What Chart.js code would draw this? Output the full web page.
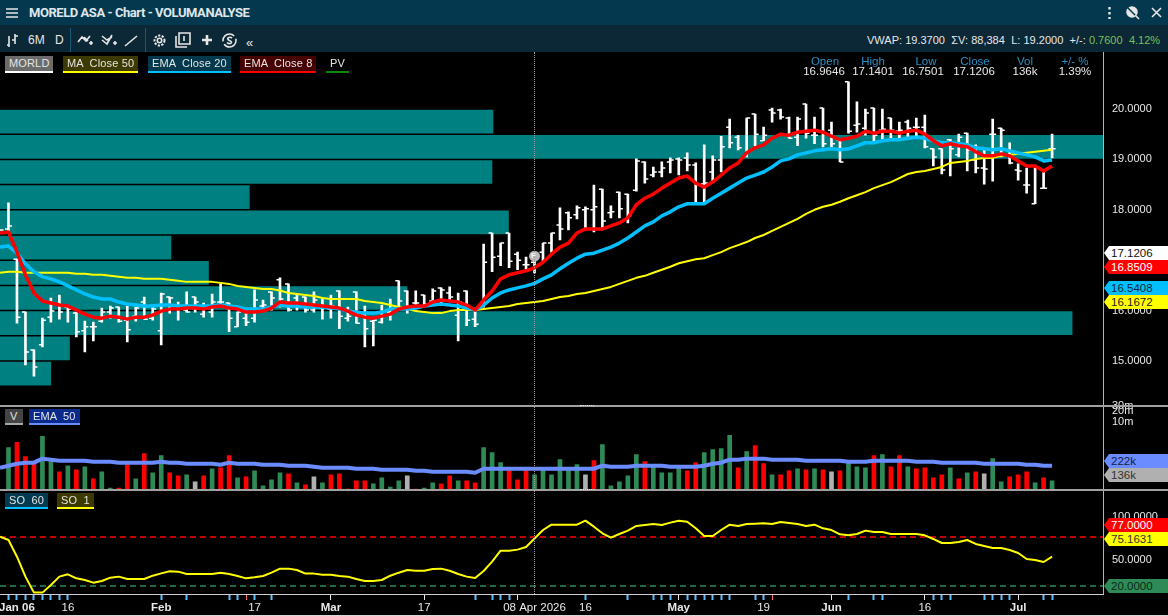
<!DOCTYPE html>
<html>
<head>
<meta charset="utf-8">
<title>MORELD ASA - Chart - VOLUMANALYSE</title>
<script src="https://cdn.jsdelivr.net/npm/chart.js@4"></script>
<style>
html,body{margin:0;padding:0;background:#000;overflow:hidden}
body{width:1168px;height:616px;position:relative;font:11px "Liberation Sans",Arial,sans-serif;color:#e8e8e8}
.abs,.chip,.tag,.hdr{position:absolute;white-space:pre}
#titlebar{position:absolute;left:0;top:0;width:1168px;height:25px;background:#03384f}
#toolbar{position:absolute;left:0;top:25px;width:1168px;height:27px;background:#0c2736}
.sep{position:absolute;top:28px;width:1px;height:24px;background:#145a7c}
canvas{position:absolute;left:0;top:52px}
.chip{height:15px;line-height:15px;padding:0 4px;color:#e4e4e4;letter-spacing:.15px}
.tag{left:1104px;width:57px;height:14px;line-height:14px;padding-left:7px;font-size:11.5px;clip-path:polygon(5px 0,100% 0,100% 100%,5px 100%,0 50%)}
.hdr{width:70px;text-align:center;line-height:11px;font-size:11.5px}
.line{position:absolute;left:0;width:1168px;height:2px;background:#a0a0a0}
.grip{position:absolute;left:580px;width:14px;height:0;border-top:1px dotted #e0e0e0}
svg{position:absolute;overflow:visible}
svg *{stroke:#e6e6e6;fill:none;stroke-width:1.6}
</style>
</head>
<body>
<div id="titlebar"></div>
<div id="toolbar"></div>
<canvas id="chart" width="1168" height="564"></canvas>

<!-- title bar -->
<svg style="left:6px;top:8px" width="12" height="10"><path d="M0 1H12M0 5H12M0 9H12"/></svg>
<div class="abs" style="left:29px;top:5px;font:bold 13px Roboto,sans-serif;letter-spacing:-.45px;color:#dfe6ea">MORELD ASA - Chart - VOLUMANALYSE</div>
<svg style="left:1108px;top:7px" width="3" height="12"><path d="M1.5 0V2.5M1.5 5V7.5M1.5 10V12" style="stroke-width:2.4"/></svg>
<svg style="left:1126px;top:6px" width="14" height="14"><circle cx="6" cy="6" r="5" style="fill:#e6e6e6"/><path d="M1 1L13 13" style="stroke:#03384f;stroke-width:1.5"/><path d="M9 9L13 13"/></svg>
<svg style="left:1152px;top:8px" width="9" height="9"><path d="M0 0L9 9M9 0L0 9"/></svg>

<!-- tool bar -->
<svg style="left:6px;top:34px" width="14" height="13"><path d="M3 2V13M1 11H3M9 0V10M9 2H12M9 6H6"/></svg>
<div class="abs" style="left:28px;top:33px;font-size:12px">6M</div>
<div class="abs" style="left:55px;top:33px;font-size:12px">D</div>
<div class="sep" style="left:70px"></div>
<svg style="left:78px;top:34px" width="16" height="13"><path d="M0 8L4 3L8 7L12 2M6 3L10 7M11 9H15M13 7V11"/></svg>
<svg style="left:102px;top:34px" width="16" height="13"><path d="M0 2L5 6L10 3M0 6L5 10L10 1M11 9H15M13 7V11"/></svg>
<svg style="left:125px;top:36px" width="12" height="10"><path d="M0 10L12 0"/></svg>
<div class="sep" style="left:145px"></div>
<svg style="left:153px;top:34px" width="13" height="13"><circle cx="6.5" cy="6.5" r="2.2"/><circle cx="6.5" cy="6.5" r="5" style="stroke-dasharray:2.2 1.4;stroke-width:2"/></svg>
<svg style="left:176px;top:33px" width="14" height="14"><path d="M3 0H14V11H3ZM0 3V14H11M8 3V8"/></svg>
<svg style="left:202px;top:35px" width="10" height="10"><path d="M5 0V10M0 5H10" style="stroke-width:2.6"/></svg>
<svg style="left:222px;top:33px" width="15" height="15"><circle cx="7.5" cy="7.5" r="6.5" style="stroke-dasharray:16 3"/><path d="M10 5C8 3.5 5 4.5 6 6.5C7 8 10 7.5 9.5 9.5C9 11 6 11 5 9.5"/></svg>
<div class="abs" style="left:246px;top:35px;font-size:13px">«</div>
<div class="abs" style="left:867px;top:34px;font-size:11px;word-spacing:.1px">VWAP: 19.3700 &nbsp;ΣV: 88,384 &nbsp;L: 19.2000 &nbsp;+/-: <span style="color:#78c257">0.7600 &nbsp;4.12%</span></div>

<!-- legends, price panel -->
<div class="chip" style="left:5px;top:56px;background:#6b6b6b;border-bottom:2px solid #fff">MORLD</div>
<div class="chip" style="left:63px;top:56px;background:#3c3a00;border-bottom:2px solid #ffff00">MA  Close 50</div>
<div class="chip" style="left:148px;top:56px;background:#04384c;border-bottom:2px solid #00bfff">EMA  Close 20</div>
<div class="chip" style="left:240px;top:56px;background:#470000;border-bottom:2px solid #ff0000">EMA  Close 8</div>
<div class="chip" style="left:326px;top:56px;border-bottom:2px solid #0a8a0a">PV</div>

<!-- crosshair read-out -->
<div class="hdr" style="left:790px;top:56px;color:#2a8fc4">Open</div><div class="hdr" style="left:789px;top:66px">16.9646</div>
<div class="hdr" style="left:838px;top:56px;color:#2a8fc4">High</div><div class="hdr" style="left:838px;top:66px">17.1401</div>
<div class="hdr" style="left:891px;top:56px;color:#2a8fc4">Low</div><div class="hdr" style="left:888px;top:66px">16.7501</div>
<div class="hdr" style="left:940px;top:56px;color:#2a8fc4">Close</div><div class="hdr" style="left:939px;top:66px">17.1206</div>
<div class="hdr" style="left:990px;top:56px;color:#2a8fc4">Vol</div><div class="hdr" style="left:990px;top:66px">136k</div>
<div class="hdr" style="left:1040px;top:56px;color:#2a8fc4">+/- %</div><div class="hdr" style="left:1040px;top:66px">1.39%</div>

<!-- panel separators and crosshair -->
<div class="line" style="top:405px"></div>
<div class="line" style="top:489px"></div>
<div class="grip" style="top:405px"></div>
<div class="grip" style="top:489px"></div>
<div class="abs" style="left:0;top:615px;width:1168px;height:1px;background:#d8d8d8"></div>
<div class="abs" style="left:534px;top:52px;height:542px;border-left:1px dotted #9a9a9a"></div>
<div class="abs" style="left:531px;top:251px;font-size:8px;font-weight:bold;color:#f4f4f4">F</div>

<!-- legends, lower panels -->
<div class="chip" style="left:5px;top:409px;height:14px;padding:0 5px;background:#444;border-bottom:2px solid #a8a8a8">V</div>
<div class="chip" style="left:29px;top:409px;height:14px;background:#0a2b8c;border-bottom:2px solid #6a8cff">EMA  50</div>
<div class="chip" style="left:5px;top:493px;height:14px;background:#043a50;border-bottom:2px solid #00bfff">SO  60</div>
<div class="chip" style="left:57px;top:493px;height:14px;background:#3c3a00;border-bottom:2px solid #ffff00">SO  1</div>

<!-- last value tags -->
<div class="tag" style="top:246px;background:#fff;color:#111">17.1206</div>
<div class="tag" style="top:260px;background:#ff0000;color:#fff">16.8509</div>
<div class="tag" style="top:281px;background:#00bfff;color:#0a2a3a">16.5408</div>
<div class="tag" style="top:295px;background:#ffff00;color:#222">16.1672</div>
<div class="tag" style="top:454px;background:#6a8cff;color:#10204a">222k</div>
<div class="tag" style="top:468px;background:#b0b0b0;color:#333">136k</div>
<div class="tag" style="top:518px;background:#ff0000;color:#fff">77.0000</div>
<div class="tag" style="top:532px;background:#ffff00;color:#333">75.1631</div>
<div class="tag" style="top:579px;background:#2e8b57;color:#0a2a18">20.0000</div>

<script>
// bars are numbered from 0 at the left edge, bar 0 is the one cut by the frame
var highs = [null,
  18.14,17.02,15.97,15.22,15.85,16.25,16.31,16.07,15.97,15.79,
  15.77,16.05,16.09,16.07,16.09,16.07,16.27,16.11,16.35,16.27,
  16.17,16.37,16.27,16.15,16.33,16.53,16.15,15.97,16.01,16.41,
  16.21,16.37,16.65,16.53,16.31,16.27,16.37,16.23,16.31,16.39,
  16.07,16.37,16.09,15.81,16.11,16.23,16.59,16.39,16.39,16.31,
  16.43,16.45,16.47,16.35,16.39,16.05,17.32,17.54,17.34,17.54,
  17.16,17.06,17.14,17.34,17.54,18.04,17.96,18.08,18.06,18.49,
  18.41,18.08,18.35,18.31,19.01,18.95,18.85,18.95,19.03,19.03,
  19.13,18.93,19.29,19.07,19.46,19.80,19.48,19.82,19.90,19.64,
  20.02,20.00,19.84,19.84,20.10,19.84,20.02,19.74,19.42,20.54,
  20.14,20.00,20.02,20.00,19.82,19.74,19.78,19.82,19.88,19.21,
  19.21,19.40,19.50,19.52,19.29,19.19,19.80,19.62,19.33,18.91,
  18.83,18.83,18.77,19.50];
var lows = [null,
  17.56,15.75,14.92,14.70,15.28,15.77,15.83,15.77,15.48,15.18,
  15.40,15.77,15.85,15.77,15.38,15.79,15.83,15.81,15.32,15.95,
  15.81,15.97,15.97,15.87,15.87,16.13,15.58,15.68,15.70,15.77,
  16.01,16.01,16.07,15.99,16.01,15.97,15.97,15.83,15.85,15.64,
  15.79,15.75,15.28,15.30,15.75,15.81,16.05,15.95,16.11,16.09,
  16.15,16.15,16.17,15.40,15.70,15.68,16.07,16.77,16.89,16.85,
  16.81,16.77,16.75,16.96,17.16,17.40,17.60,17.82,17.60,17.56,
  17.60,17.84,17.84,17.74,18.37,18.53,18.65,18.65,18.73,18.69,
  18.77,18.10,18.16,18.55,18.75,19.23,19.19,19.05,19.27,19.37,
  19.74,19.80,19.42,19.27,19.42,19.31,19.25,19.23,18.95,19.52,
  19.54,19.48,19.35,19.40,19.42,19.42,19.44,19.44,19.23,18.87,
  18.71,18.67,19.05,18.77,18.73,18.51,18.57,19.05,18.91,18.59,
  18.33,18.12,18.43,19.03];
var opens = [null,
  17.62,17.02,15.97,15.22,15.32,15.87,16.11,16.07,15.95,15.60,
  15.68,15.79,15.97,16.07,15.81,15.89,16.17,15.85,15.60,16.27,
  16.09,16.01,16.27,15.93,15.97,16.17,16.15,15.68,15.85,15.85,
  16.09,16.37,16.61,16.53,16.25,16.27,16.01,16.05,16.03,16.39,
  15.85,16.37,15.91,15.79,15.77,15.97,16.59,16.39,16.15,16.31,
  16.19,16.45,16.35,15.91,16.39,15.83,16.09,17.54,17.08,17.54,
  17.12,16.91,16.96,17.16,17.34,17.70,17.94,17.90,18.00,18.00,
  18.41,17.94,18.35,18.31,18.39,18.95,18.69,18.75,18.95,19.01,
  19.03,18.89,18.51,18.75,18.99,19.64,19.44,19.07,19.90,19.37,
  19.98,19.98,19.82,19.44,20.10,19.48,20.02,19.58,19.39,20.54,
  19.68,19.62,20.02,19.58,19.82,19.56,19.74,19.64,19.64,19.21,
  19.21,19.39,19.09,19.52,18.99,18.83,19.50,19.62,19.19,18.79,
  18.49,18.12,18.43,19.21];
var closes = [17.60,
  17.68,15.87,15.18,14.88,15.81,15.99,15.97,16.03,15.58,15.68,
  15.68,15.97,16.05,15.79,15.62,16.05,15.83,16.03,16.33,16.25,
  16.05,15.97,16.17,16.05,16.17,16.17,15.85,15.97,15.77,16.21,
  16.11,16.25,16.23,16.01,16.07,16.01,16.21,16.05,16.09,15.89,
  15.89,15.75,15.64,15.81,15.99,16.03,16.19,16.03,16.15,16.13,
  16.39,16.41,16.27,16.17,15.81,15.73,16.96,17.06,17.34,16.98,
  17.00,16.91,17.12,17.34,17.54,17.62,17.84,18.04,18.02,18.06,
  17.78,17.96,18.02,17.88,18.97,18.61,18.75,18.83,18.99,18.99,
  18.89,18.49,18.53,18.99,19.25,19.33,19.23,19.82,19.50,19.48,
  19.92,19.84,19.42,19.80,19.52,19.48,19.31,19.31,18.95,19.56,
  19.70,19.92,19.48,19.60,19.58,19.58,19.62,19.64,19.25,19.05,
  18.79,19.21,19.44,19.19,18.83,18.81,19.50,19.58,18.93,18.77,
  18.49,18.83,18.43,19.21];

var ema8 = [17.54,17.56,17.16,16.71,16.35,16.19,16.15,16.11,16.09,16.01,
  15.93,15.87,15.85,15.89,15.87,15.83,15.87,15.87,15.91,15.99,
  16.03,16.03,16.05,16.05,16.03,16.07,16.09,16.05,16.03,15.97,
  15.97,15.99,16.05,16.17,16.15,16.15,16.13,16.11,16.09,16.07,
  16.05,15.99,15.91,15.87,15.85,15.89,15.93,16.03,16.07,16.09,
  16.09,16.17,16.21,16.19,16.17,16.11,16.01,16.21,16.39,16.63,
  16.71,16.75,16.79,16.85,16.96,17.12,17.26,17.34,17.54,17.62,
  17.62,17.62,17.68,17.74,17.84,18.10,18.23,18.31,18.43,18.53,
  18.63,18.67,18.53,18.45,18.55,18.69,18.83,18.93,19.13,19.23,
  19.29,19.42,19.50,19.48,19.54,19.56,19.58,19.54,19.46,19.39,
  19.42,19.46,19.56,19.52,19.56,19.56,19.52,19.56,19.58,19.50,
  19.37,19.27,19.31,19.27,19.25,19.15,19.07,19.07,19.11,19.07,
  18.97,18.87,18.87,18.77,18.87];
var ema20 = [17.26,17.28,17.14,16.93,16.77,16.67,16.63,16.57,16.49,16.41,
  16.33,16.27,16.23,16.23,16.17,16.13,16.11,16.09,16.09,16.11,
  16.11,16.09,16.09,16.09,16.09,16.09,16.11,16.09,16.07,16.03,
  16.03,16.03,16.07,16.11,16.09,16.09,16.07,16.07,16.07,16.05,
  16.03,15.99,15.97,15.95,15.95,15.97,16.03,16.03,16.03,16.05,
  16.09,16.11,16.13,16.11,16.09,16.05,16.01,16.11,16.25,16.35,
  16.41,16.45,16.49,16.54,16.63,16.71,16.83,16.94,17.04,17.12,
  17.14,17.20,17.26,17.34,17.44,17.56,17.68,17.76,17.88,17.96,
  18.06,18.12,18.12,18.12,18.23,18.33,18.43,18.53,18.63,18.69,
  18.75,18.85,18.97,19.01,19.09,19.13,19.17,19.19,19.21,19.19,
  19.21,19.27,19.33,19.33,19.37,19.39,19.39,19.42,19.44,19.42,
  19.37,19.33,19.33,19.31,19.29,19.23,19.21,19.19,19.21,19.17,
  19.13,19.09,19.05,18.97,18.99];
var ma50 = [16.75,16.77,16.77,16.75,16.75,16.75,16.75,16.75,16.75,16.73,
  16.73,16.71,16.71,16.69,16.67,16.65,16.65,16.63,16.63,16.63,
  16.61,16.59,16.57,16.57,16.57,16.57,16.55,16.53,16.49,16.47,
  16.45,16.43,16.43,16.40,16.35,16.33,16.31,16.29,16.25,16.23,
  16.23,16.23,16.23,16.19,16.17,16.15,16.11,16.07,16.03,15.99,
  15.97,15.95,15.95,15.99,16.01,16.01,16.01,16.03,16.05,16.07,
  16.09,16.13,16.15,16.17,16.19,16.23,16.27,16.29,16.33,16.35,
  16.39,16.43,16.47,16.53,16.59,16.65,16.69,16.75,16.81,16.87,
  16.94,16.98,17.02,17.04,17.10,17.16,17.24,17.30,17.36,17.44,
  17.50,17.58,17.66,17.74,17.82,17.92,18.00,18.06,18.10,18.16,
  18.23,18.29,18.35,18.43,18.49,18.55,18.63,18.71,18.75,18.77,
  18.81,18.85,18.93,18.95,18.97,19.01,19.03,19.03,19.07,19.09,
  19.11,19.13,19.15,19.17,19.19];

// volume in thousands, direction g up, r down, n unchanged
var volume = [null,
  336,376,264,208,424,224,144,192,160,184,88,144,16,16,208,88,288,136,272,136,
  112,120,64,112,168,176,272,96,104,152,32,80,136,128,56,40,104,56,120,128,
  8,72,72,48,96,24,72,112,8,16,56,48,112,72,72,56,336,296,216,160,
  80,176,120,160,120,240,176,200,120,232,360,32,64,112,280,224,184,136,136,176,
  152,216,296,320,328,432,176,304,352,208,120,120,152,168,160,168,160,144,152,216,
  184,176,272,280,184,272,184,168,176,96,120,176,88,136,144,128,248,64,104,120,
  144,56,96,72];
var volumeDir = ("g r r r g g r g r g r g g r r g r g g r r g n r g r r g r g g g g r g r n g r r r r r g g g g " +
  "n r g g r r g r r g g g r r r g g g g g g n r g g g g g r g g g g r r g g g g r g r r g r r g " +
  "r g r n r g g g r g r r g r r r r g r g r n g g r r r g r g").split(" ");
var volumeEma = [176,192,208,216,216,248,240,232,232,232,
  232,224,224,224,216,216,216,216,216,224,
  216,216,208,208,208,208,200,216,208,208,
  208,200,200,200,192,192,192,184,176,176,
  176,176,168,168,168,160,160,160,160,152,
  152,144,144,144,144,144,136,168,168,168,
  168,168,168,168,168,168,168,168,168,168,
  168,192,184,184,184,192,192,192,192,184,
  184,184,184,192,208,216,240,240,248,248,
  248,240,240,240,240,232,232,232,232,232,
  224,224,224,232,232,232,232,232,224,224,
  224,216,216,216,216,216,208,208,208,208,
  208,200,200,192,192];

var stochastic = [77.4,73.5,54.1,30.9,12.3,12.3,21.2,30.9,33.6,28.9,
  27.0,23.9,25.8,29.7,30.9,28.2,28.2,28.2,32.0,34.7,
  37.1,36.7,34.0,34.0,34.0,34.0,35.5,34.0,31.6,28.9,
  30.1,31.6,35.5,40.2,40.2,38.6,34.4,34.4,33.2,33.2,
  31.6,30.9,28.2,25.8,25.8,27.0,32.0,35.5,38.6,37.8,
  37.8,39.8,40.2,37.8,34.0,30.9,29.3,37.5,48.3,61.1,
  61.1,62.3,65.4,75.2,85.1,91.3,91.3,91.3,91.3,96.0,
  89.0,81.3,76.2,80.5,84.4,89.8,91.0,92.1,91.0,93.7,
  96.0,94.8,87.1,78.2,78.2,85.1,91.3,89.8,92.1,92.5,
  92.9,92.1,94.4,93.3,92.1,89.8,91.3,87.1,85.1,80.1,
  78.9,80.5,84.4,82.8,82.8,80.5,80.5,80.5,80.5,78.9,
  74.7,70.0,70.0,71.2,73.5,68.9,66.5,64.2,64.2,61.9,
  58.4,51.4,50.2,47.9,54.1];
var soUpper = 77;
var soLower = 20;

// volume at price, share of the largest level
var profilePrices = [19.75,19.25,18.75,18.25,17.75,17.25,16.75,16.25,15.75,15.25,14.75];
var profileShare  = [44.7,100,44.6,22.6,46.1,15.5,18.9,36.9,97.2,6.3,4.6];

var priceTicks = [15,16,17,18,19,20];
var volumeTicks = [664,624,536];
var volumeTickLabels = ["30m","20m","10m"];
var soTicks = [50,100];

var xLabelBars  = [2,8,19,30,39,50,63,69,80,90,98,109,120];
var xLabelTexts = ["Jan 06","16","Feb","17","Mar","17","08 Apr 2026","16","May","19","Jun","16","Jul"];
var xBoldTexts  = ["Jan 06","Feb","Mar","May","Jun","Jul"];
var newsBars    = [1,2,3,4,5,6,7,8,19,22,27,28,30,32,56,58,59,60,69,74,77,78,79,81,82,83,84,85,86,89,90,100,103,104,110,111,112,116,117,118,119,123,124];
var alertBars   = [29,91];
var periodBars  = [39,50,61,80,98,109,120];
var crosshairBar = 63;
var crosshairMark = 17.08;

function points(values) {
  return values.map(function (v, i) { return {x: i, y: v}; }).filter(function (p) { return p.y !== null; });
}

function setTicks(values) {
  return function (scale) { scale.ticks = values.map(function (v) { return {value: v}; }); };
}

function rightAxis(weight, min, max, values, format) {
  return {
    type: "linear", position: "right", stack: "panels", stackWeight: weight, offset: false,
    min: min, max: max, beginAtZero: false,
    grid: {display: false, drawTicks: false, offset: false},
    border: {color: "#b4b4b4", width: 1},
    afterBuildTicks: setTicks(values),
    afterFit: function (scale) { scale.width = 65; scale.paddingTop = 0; scale.paddingBottom = 0; },
    ticks: {color: "#e8e8e8", padding: 9, autoSkip: false, font: {family: "Liberation Sans", size: 11}, callback: format}
  };
}

var allXTicks = newsBars.concat(alertBars, periodBars, xLabelBars)
  .filter(function (v, i, a) { return a.indexOf(v) === i; })
  .sort(function (a, b) { return a - b; });

new Chart("chart", {
  data: {
    datasets: [
      {type: "line", label: "EMA 8", data: points(ema8), xAxisID: "x", yAxisID: "y", borderColor: "#ff0000", borderWidth: 3.5, pointRadius: 0, order: 1},
      {type: "line", label: "EMA 20", data: points(ema20), xAxisID: "x", yAxisID: "y", borderColor: "#00bfff", borderWidth: 3.5, pointRadius: 0, order: 2},
      {type: "line", label: "MA 50", data: points(ma50), xAxisID: "x", yAxisID: "y", borderColor: "#ffff00", borderWidth: 2, pointRadius: 0, order: 3},
      {type: "line", label: "Mark", data: [{x: crosshairBar, y: crosshairMark}], xAxisID: "x", yAxisID: "y", showLine: false, pointRadius: 5.5, pointBackgroundColor: "#b8b8b8", pointBorderWidth: 0, order: 0},
      {type: "line", label: "Close", data: points(closes), xAxisID: "x", yAxisID: "y", showLine: false, pointStyle: "dash", pointRadius: 3.5, pointBorderColor: "#fff", pointBorderWidth: 1.5, order: 6},
      {type: "line", label: "Open", data: points(opens), xAxisID: "x", yAxisID: "y", showLine: false, pointStyle: "dash", pointRotation: 180, pointRadius: 3.5, pointBorderColor: "#fff", pointBorderWidth: 1.5, order: 6},
      {type: "bar", label: "High-Low", grouped: false, barThickness: 2, backgroundColor: "#fff", xAxisID: "x", yAxisID: "y", order: 7,
        data: highs.map(function (h, i) { return {x: i, y: [lows[i], h]}; }).filter(function (p) { return p.y[1] !== null; })},
      {type: "bar", label: "Profile", indexAxis: "y", grouped: false, barThickness: 23, backgroundColor: "#008080", xAxisID: "xProfile", yAxisID: "y", order: 9,
        data: profilePrices.map(function (p, i) { return {x: profileShare[i], y: p}; })},

      {type: "line", label: "Volume EMA 50", data: points(volumeEma), xAxisID: "x", yAxisID: "yVolume", borderColor: "#6a8cff", borderWidth: 4, pointRadius: 0, order: 1},
      {type: "bar", label: "Volume", grouped: false, barThickness: 4, xAxisID: "x", yAxisID: "yVolume", order: 5, data: points(volume),
        backgroundColor: volumeDir.map(function (d) { return d === "g" ? "#2e8b57" : d === "r" ? "#ff0000" : "#b0b0b0"; })},

      {type: "line", label: "SO 1", data: points(stochastic), xAxisID: "x", yAxisID: "ySo", borderColor: "#ffff00", borderWidth: 2, pointRadius: 0, order: 1},
      {type: "line", label: "Upper", data: [{x: 0, y: soUpper}, {x: 130, y: soUpper}], xAxisID: "x", yAxisID: "ySo", borderColor: "#ff0000", borderWidth: 1.5, borderDash: [6, 4], pointRadius: 0, order: 3},
      {type: "line", label: "Lower", data: [{x: 0, y: soLower}, {x: 130, y: soLower}], xAxisID: "x", yAxisID: "ySo", borderColor: "#2e8b57", borderWidth: 1.5, borderDash: [6, 4], pointRadius: 0, order: 3}
    ]
  },
  options: {
    responsive: false,
    animation: false,
    devicePixelRatio: 1,
    layout: {padding: 0, autoPadding: false},
    plugins: {legend: {display: false}, tooltip: {enabled: false}},
    elements: {line: {tension: 0, borderJoinStyle: "round"}},
    scales: {
      x: {
        type: "linear", position: "bottom", min: 0, max: 130, offset: false,
        border: {color: "#d0d0d0", width: 1},
        grid: {
          offset: false, drawOnChartArea: false, drawTicks: true, tickLength: 6,
          tickColor: function (c) {
            var v = c.tick.value;
            if (alertBars.indexOf(v) >= 0) return "#ff6a6a";
            if (periodBars.indexOf(v) >= 0) return "#e8e8e8";
            if (newsBars.indexOf(v) >= 0) return "#5fc0ff";
            return "rgba(0,0,0,0)";
          },
          tickWidth: function (c) { return newsBars.indexOf(c.tick.value) >= 0 ? 2 : 1; }
        },
        afterBuildTicks: setTicks(allXTicks),
        afterFit: function (scale) { scale.height = 22; scale.paddingLeft = 0; scale.paddingRight = 0; },
        ticks: {
          color: "#e8e8e8", autoSkip: false, maxRotation: 0, padding: 1,
          font: function (c) {
            var text = xLabelTexts[xLabelBars.indexOf(c.tick && c.tick.value)];
            return {family: "Liberation Sans", size: 11.5, weight: xBoldTexts.indexOf(text) >= 0 ? "bold" : "normal"};
          },
          callback: function (v) {
            var i = xLabelBars.indexOf(v);
            return i >= 0 ? xLabelTexts[i] : "";
          }
        }
      },
      y: rightAxis(353.5, 14.117, 21.131, priceTicks, function (v) { return v.toFixed(4); }),
      yVolume: rightAxis(84.5, 0, 668, volumeTicks, function (v) { return volumeTickLabels[volumeTicks.indexOf(v)]; }),
      ySo: rightAxis(104, 10.7, 131.65, soTicks, function (v) { return v.toFixed(4); }),
      xProfile: {type: "linear", axis: "x", display: false, min: 0, max: 100, offset: false}
    }
  }
});
</script>
</body>
</html>
